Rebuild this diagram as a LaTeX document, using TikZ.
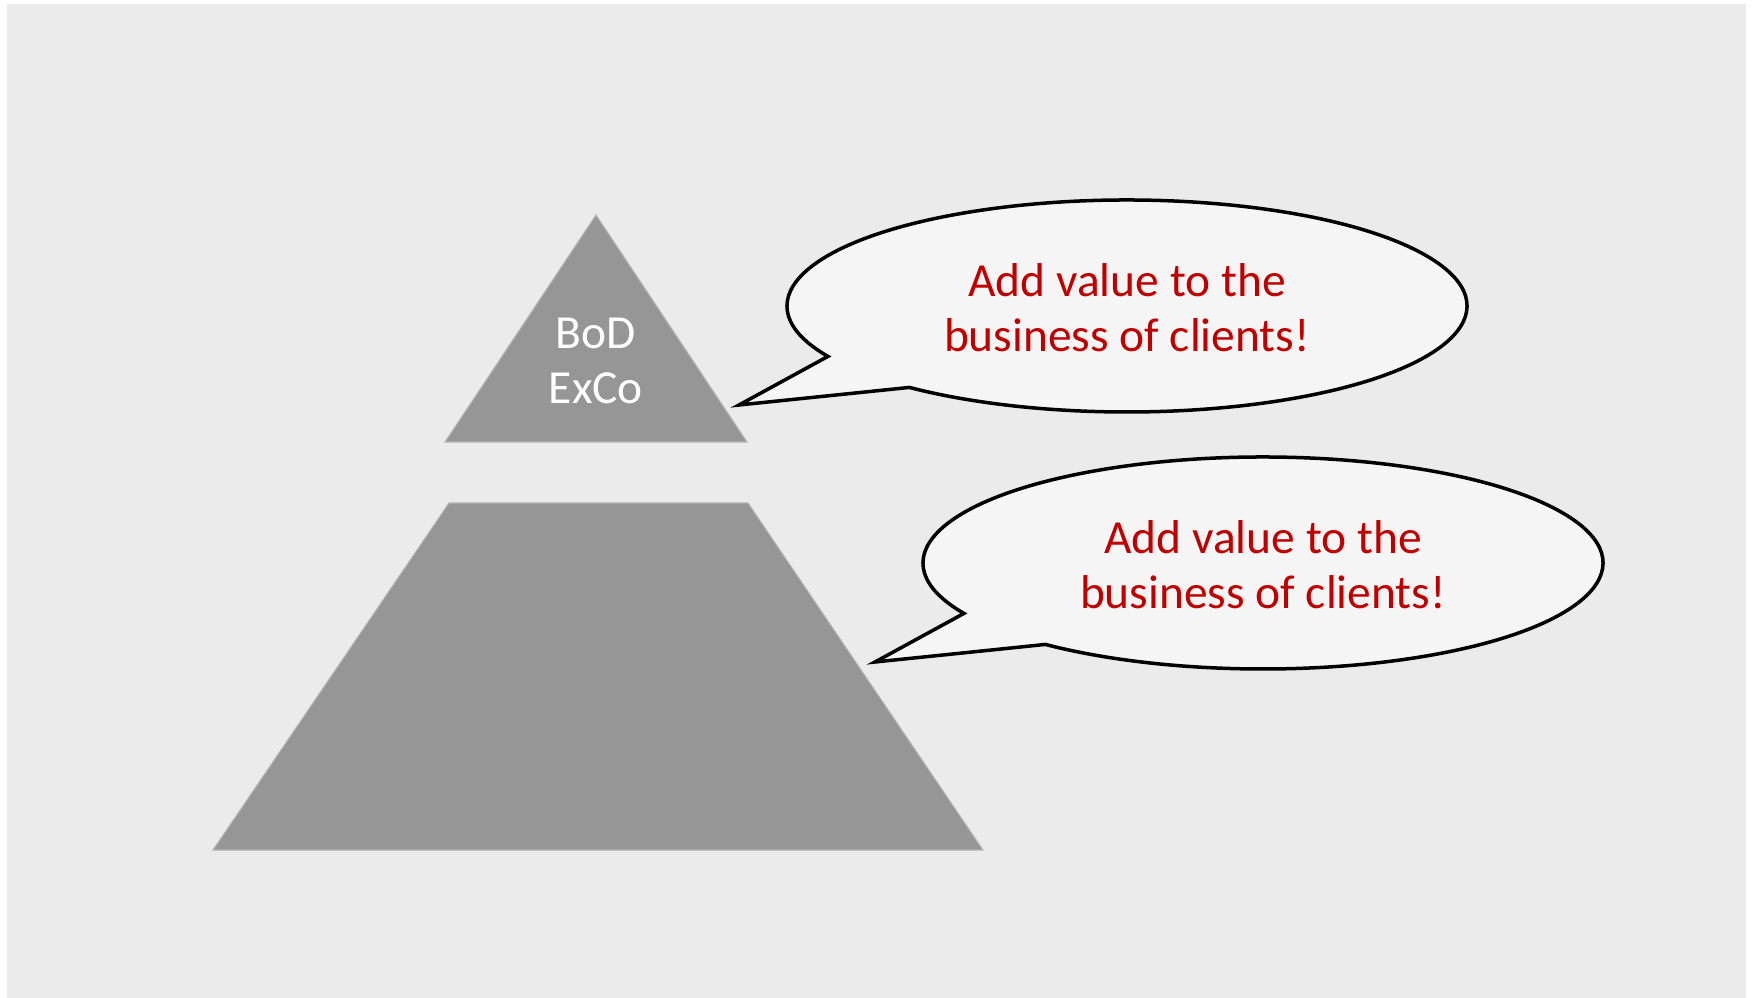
\documentclass[tikz,border=0pt]{standalone}
\usepackage{fontspec}
\setmainfont{Carlito}
\usepackage{tikz}
\definecolor{backdrop}{HTML}{EBEBEB}
\definecolor{levelgray}{HTML}{969696}
\definecolor{bubblefill}{HTML}{F5F5F5}
\definecolor{sayred}{HTML}{C00000}

\begin{document}
\begin{tikzpicture}[x=0.01cm,y=-0.01cm,
	level/.style={fill=levelgray,draw=levelgray!70!white,line width=0.3pt},
	bubble/.style={fill=bubblefill,draw=black,line width=0.035cm},
	saytext/.style={text=sayred,align=center,font=\fontsize{13.5}{15.7}\selectfont},
	leveltext/.style={text=white,align=center,font=\fontsize{13.5}{15.7}\selectfont}]
	\useasboundingbox (0,0) rectangle (1755,998);
	\fill[backdrop] (7,4) rectangle (1746,998);
	\coordinate (apex) at (596,215);
	\coordinate (topR) at (747,442);
	\coordinate (topL) at (445,442);
	\coordinate (baseTL) at (449,503);
	\coordinate (baseTR) at (748,503);
	\coordinate (baseBR) at (983,850);
	\coordinate (baseBL) at (213,850);
	\draw[level] (apex) -- (topR) -- (topL) -- cycle;
	\draw[level] (baseTL) -- (baseTR) -- (baseBR) -- (baseBL) -- cycle;
	\node[leveltext] (board) at (596,361) {BoD\\ExCo};
	\coordinate (c1) at (1127,306);
	\coordinate (tip1) at (739,405);
	\coordinate (c2) at (1263,563);
	\coordinate (tip2) at (875,662);
	\draw[bubble] (c1) ++(151.6:340 and 106) arc[start angle=151.6,end angle=489.8,x radius=340,y radius=106] -- (tip1) -- cycle;
	\draw[bubble] (c2) ++(151.6:340 and 106) arc[start angle=151.6,end angle=489.8,x radius=340,y radius=106] -- (tip2) -- cycle;
	\node[saytext] (say1) at (1127,308) {Add value to the\\business of clients!};
	\node[saytext] (say2) at (1263,565) {Add value to the\\business of clients!};
\end{tikzpicture}
\end{document}
